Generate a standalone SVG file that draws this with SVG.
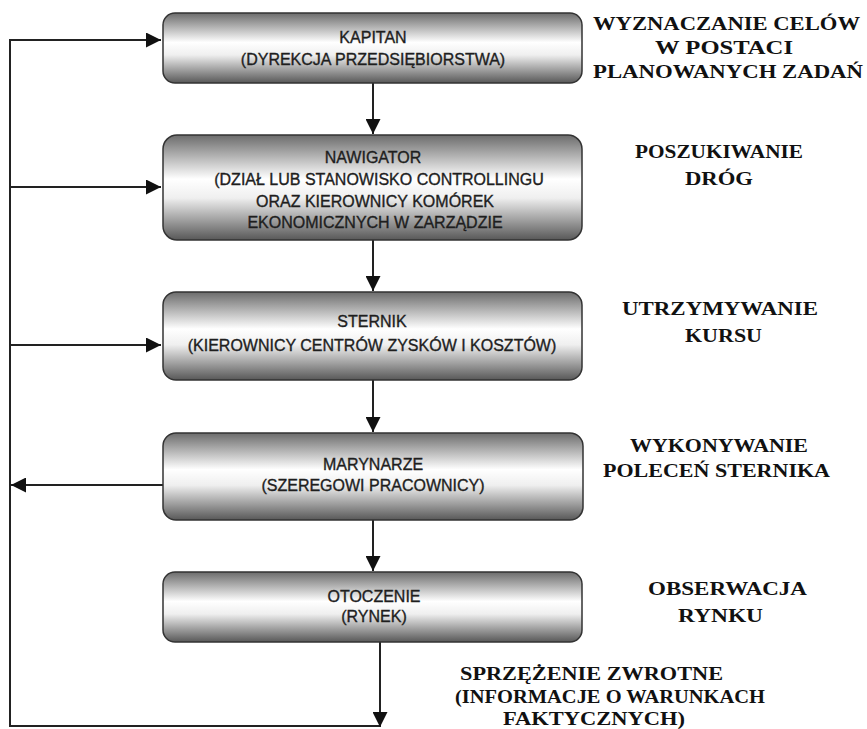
<svg xmlns="http://www.w3.org/2000/svg" width="867" height="729" viewBox="0 0 867 729">
<defs>
<linearGradient id="g" x1="0" y1="0" x2="0" y2="1">
<stop offset="0" stop-color="#6c6c6c"/>
<stop offset="0.42" stop-color="#ffffff"/>
<stop offset="0.6" stop-color="#efefef"/>
<stop offset="1" stop-color="#585858"/>
</linearGradient>
<marker id="ah" viewBox="0 0 10 10" refX="10" refY="5" markerWidth="15" markerHeight="15" markerUnits="userSpaceOnUse" orient="auto">
<path d="M0,0 L10,5 L0,10 Z" fill="#111"/>
</marker>
</defs>
<style>
.box{fill:url(#g);stroke:#333;stroke-width:1.5}
.bt{font-family:"Liberation Sans",Arial,sans-serif;font-size:16px;fill:#1e1e1e;stroke:#1e1e1e;stroke-width:0.35;text-anchor:middle}
.rt{font-family:"Liberation Serif",serif;font-weight:bold;font-size:19px;fill:#111}
.c{stroke:#222;stroke-width:2;fill:none}
</style>
<rect width="867" height="729" fill="#fff"/>
<g id="connectors">
<polyline class="c" points="380,726 10,726 10,40 161,40" marker-end="url(#ah)"/>
<line class="c" x1="10" y1="187" x2="161" y2="187" marker-end="url(#ah)"/>
<line class="c" x1="10" y1="345" x2="161" y2="345" marker-end="url(#ah)"/>
<line class="c" x1="163" y1="485" x2="11" y2="485" marker-end="url(#ah)"/>
<line class="c" x1="373" y1="83" x2="373" y2="134" marker-end="url(#ah)"/>
<line class="c" x1="373" y1="240" x2="373" y2="291" marker-end="url(#ah)"/>
<line class="c" x1="373" y1="380" x2="373" y2="432" marker-end="url(#ah)"/>
<line class="c" x1="373" y1="520" x2="373" y2="571" marker-end="url(#ah)"/>
<line class="c" x1="380" y1="642" x2="380" y2="727" marker-end="url(#ah)"/>
</g>
<g id="kapitan">
<rect class="box" x="163" y="13" width="419" height="70" rx="12"/>
<text class="bt" x="373" y="43">KAPITAN</text>
<text class="bt" x="373" y="65">(DYREKCJA PRZEDSIĘBIORSTWA)</text>
</g>
<g id="nawigator">
<rect class="box" x="163" y="135" width="419" height="105" rx="14"/>
<text class="bt" x="373" y="163">NAWIGATOR</text>
<text class="bt" x="379" y="185">(DZIAŁ LUB STANOWISKO CONTROLLINGU</text>
<text class="bt" x="375" y="207">ORAZ KIEROWNICY KOMÓREK</text>
<text class="bt" x="375" y="228">EKONOMICZNYCH W ZARZĄDZIE</text>
</g>
<g id="sternik">
<rect class="box" x="163" y="292" width="419" height="88" rx="13"/>
<text class="bt" x="372" y="327">STERNIK</text>
<text class="bt" x="372" y="351">(KIEROWNICY CENTRÓW  ZYSKÓW I KOSZTÓW)</text>
</g>
<g id="marynarze">
<rect class="box" x="163" y="433" width="420" height="87" rx="13"/>
<text class="bt" x="373" y="470">MARYNARZE</text>
<text class="bt" x="373" y="491">(SZEREGOWI PRACOWNICY)</text>
</g>
<g id="otoczenie">
<rect class="box" x="163" y="572" width="419" height="70" rx="12"/>
<text class="bt" x="374" y="602">OTOCZENIE</text>
<text class="bt" x="374" y="622">(RYNEK)</text>
</g>
<g id="labels">
<text class="rt" x="593" y="30" textLength="267" lengthAdjust="spacingAndGlyphs">WYZNACZANIE CELÓW</text>
<text class="rt" x="655" y="54" textLength="138" lengthAdjust="spacingAndGlyphs">W POSTACI</text>
<text class="rt" x="593" y="78" textLength="270" lengthAdjust="spacingAndGlyphs">PLANOWANYCH ZADAŃ</text>
<text class="rt" x="635" y="158" textLength="168" lengthAdjust="spacingAndGlyphs">POSZUKIWANIE</text>
<text class="rt" x="685" y="185" textLength="68" lengthAdjust="spacingAndGlyphs">DRÓG</text>
<text class="rt" x="622" y="315" textLength="196" lengthAdjust="spacingAndGlyphs">UTRZYMYWANIE</text>
<text class="rt" x="685" y="342" textLength="77" lengthAdjust="spacingAndGlyphs">KURSU</text>
<text class="rt" x="630" y="452" textLength="178" lengthAdjust="spacingAndGlyphs">WYKONYWANIE</text>
<text class="rt" x="603" y="477" textLength="227" lengthAdjust="spacingAndGlyphs">POLECEŃ STERNIKA</text>
<text class="rt" x="648" y="595" textLength="159" lengthAdjust="spacingAndGlyphs">OBSERWACJA</text>
<text class="rt" x="678" y="622" textLength="85" lengthAdjust="spacingAndGlyphs">RYNKU</text>
<text class="rt" x="460" y="680" textLength="263" lengthAdjust="spacingAndGlyphs">SPRZĘŻENIE ZWROTNE</text>
<text class="rt" x="455" y="703" textLength="310" lengthAdjust="spacingAndGlyphs">(INFORMACJE O WARUNKACH</text>
<text class="rt" x="503" y="725" textLength="182" lengthAdjust="spacingAndGlyphs">FAKTYCZNYCH)</text>
</g>
</svg>
